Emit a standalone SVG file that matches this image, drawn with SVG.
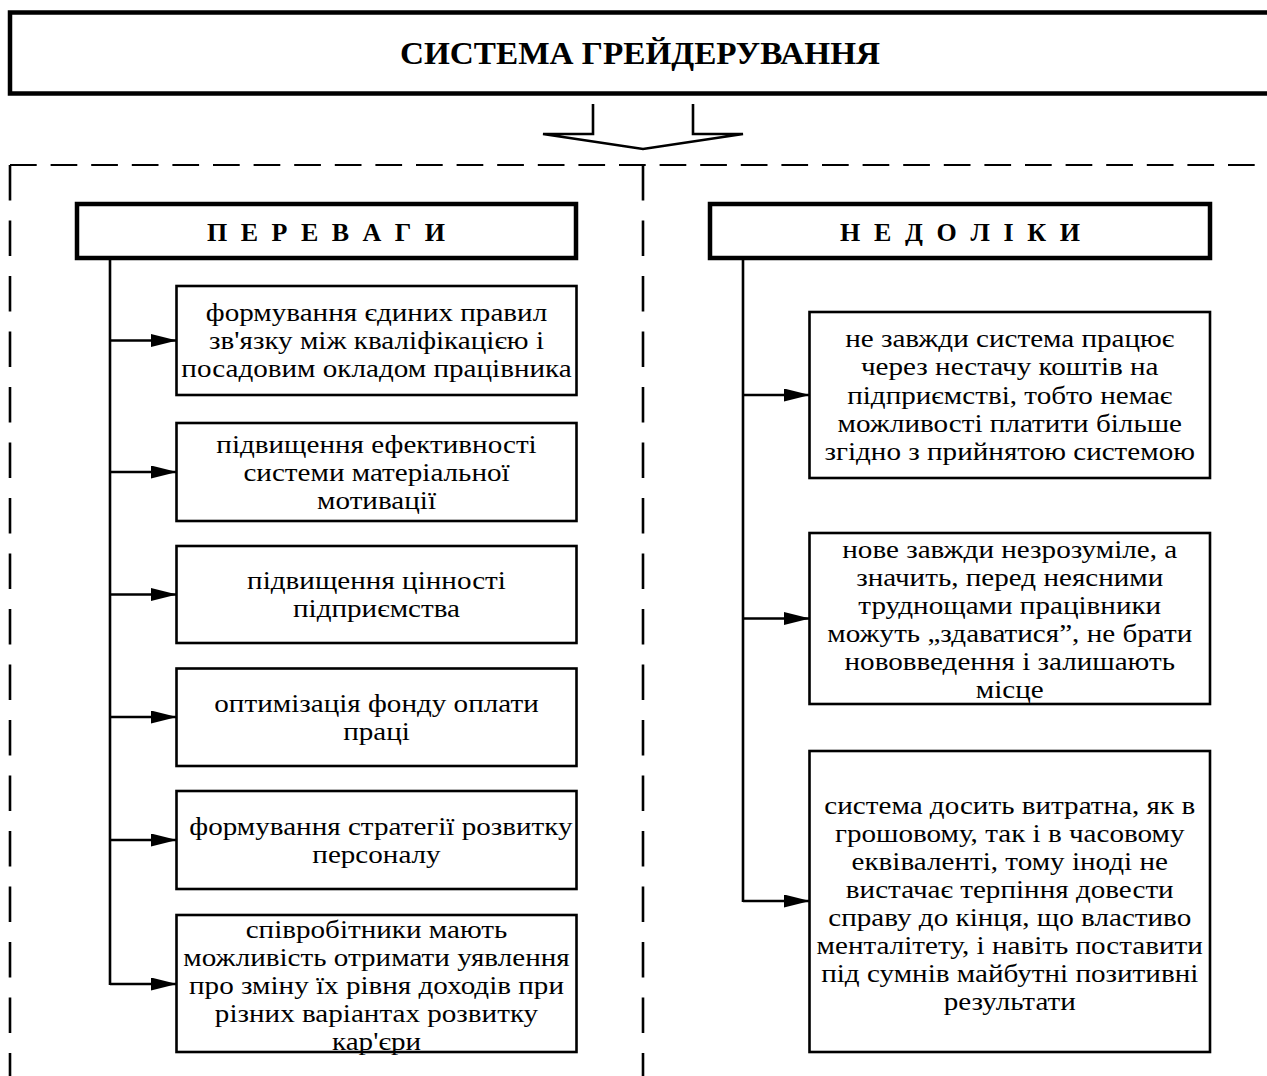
<svg xmlns="http://www.w3.org/2000/svg" width="1267" height="1076" viewBox="0 0 1267 1076">
  <style>
    .frame { fill: none; stroke: #000; stroke-width: 4.5; }
    .head { fill: #fff; stroke: #000; stroke-width: 4.5; }
    .box { fill: #fff; stroke: #000; stroke-width: 2.6; }
    .wire { fill: none; stroke: #000; stroke-width: 2.6; }
    .dashH { fill: none; stroke: #000; stroke-width: 2; stroke-dasharray: 26.7 13.9; }
    .dashV { fill: none; stroke: #000; stroke-width: 2.6; stroke-dasharray: 35.5 20; }
    .tip { fill: #000; stroke: none; }
    .title { font-family: "Liberation Serif", "Times New Roman", serif; font-weight: bold; font-size: 31px; fill: #000; }
    .cap { font-family: "Liberation Serif", "Times New Roman", serif; font-weight: bold; font-size: 26px; fill: #000; }
    .t { font-family: "Liberation Serif", "Times New Roman", serif; font-size: 26px; fill: #000; text-anchor: middle; }
  </style>
  <defs>
    <marker id="arrow" viewBox="0 0 26 13" refX="26" refY="6.5" markerUnits="userSpaceOnUse" markerWidth="26" markerHeight="13" orient="auto">
      <path class="tip" d="M0,0 L26,6.5 L0,13 Z"/>
    </marker>
  </defs>

  <rect width="1267" height="1076" fill="#fff"/>

  <!-- top block -->
  <g id="grading-system">
    <rect class="frame" x="10" y="12.5" width="1262" height="81"/>
    <text class="title" x="640" y="64" text-anchor="middle" textLength="480" lengthAdjust="spacingAndGlyphs">СИСТЕМА ГРЕЙДЕРУВАННЯ</text>
  </g>

  <!-- dashed split into two halves -->
  <g id="split-frame">
    <line class="dashH" x1="10" y1="165" x2="1267" y2="165"/>
    <line class="dashV" x1="10" y1="165" x2="10" y2="1076"/>
    <line class="dashV" x1="643" y1="165" x2="643" y2="1076"/>
  </g>

  <g id="connectors">
    <!-- hollow down arrow -->
    <polyline class="wire" points="593,104 593,134 543,134 643,149 743,134 693,134 693,104"/>
    <!-- advantages trunk -->
    <line class="wire" x1="110" y1="258" x2="110" y2="985"/>
    <line class="wire" x1="110" y1="340.5" x2="177" y2="340.5" marker-end="url(#arrow)"/>
    <line class="wire" x1="110" y1="472" x2="177" y2="472" marker-end="url(#arrow)"/>
    <line class="wire" x1="110" y1="594.5" x2="177" y2="594.5" marker-end="url(#arrow)"/>
    <line class="wire" x1="110" y1="717" x2="177" y2="717" marker-end="url(#arrow)"/>
    <line class="wire" x1="110" y1="840" x2="177" y2="840" marker-end="url(#arrow)"/>
    <line class="wire" x1="110" y1="984" x2="177" y2="984" marker-end="url(#arrow)"/>
    <!-- disadvantages trunk -->
    <line class="wire" x1="743" y1="258" x2="743" y2="902"/>
    <line class="wire" x1="743" y1="395" x2="810" y2="395" marker-end="url(#arrow)"/>
    <line class="wire" x1="743" y1="618.5" x2="810" y2="618.5" marker-end="url(#arrow)"/>
    <line class="wire" x1="743" y1="901" x2="810" y2="901" marker-end="url(#arrow)"/>
  </g>

  <!-- headers -->
  <g id="advantages">
    <rect class="head" x="77" y="204" width="499" height="54"/>
    <text class="cap" x="207" y="241" textLength="238" lengthAdjust="spacing">П Е Р Е В А Г И</text>
  </g>
  <g id="disadvantages">
    <rect class="head" x="710" y="204" width="500" height="54"/>
    <text class="cap" x="840" y="241" textLength="240" lengthAdjust="spacing">Н Е Д О Л І К И</text>
  </g>

  <!-- advantages items -->
  <g id="adv-1">
    <rect class="box" x="176.5" y="286" width="400" height="109"/>
    <g transform="translate(376.5 0) scale(1.12 1)">
      <text class="t" x="0" y="321">формування єдиних правил</text>
      <text class="t" x="0" y="349">зв'язку між кваліфікацією і</text>
      <text class="t" x="0" y="377">посадовим окладом працівника</text>
    </g>
  </g>
  <g id="adv-2">
    <rect class="box" x="176.5" y="423" width="400" height="98"/>
    <g transform="translate(376.5 0) scale(1.12 1)">
      <text class="t" x="0" y="453">підвищення ефективності</text>
      <text class="t" x="0" y="481">системи матеріальної</text>
      <text class="t" x="0" y="509">мотивації</text>
    </g>
  </g>
  <g id="adv-3">
    <rect class="box" x="176.5" y="546" width="400" height="97"/>
    <g transform="translate(376.5 0) scale(1.12 1)">
      <text class="t" x="0" y="589">підвищення цінності</text>
      <text class="t" x="0" y="617">підприємства</text>
    </g>
  </g>
  <g id="adv-4">
    <rect class="box" x="176.5" y="668.5" width="400" height="97.5"/>
    <g transform="translate(376.5 0) scale(1.12 1)">
      <text class="t" x="0" y="712">оптимізація фонду оплати</text>
      <text class="t" x="0" y="740">праці</text>
    </g>
  </g>
  <g id="adv-5">
    <rect class="box" x="176.5" y="791" width="400" height="98"/>
    <g transform="translate(376.5 0) scale(1.12 1)">
      <text class="t" x="4" y="835">формування стратегії розвитку</text>
      <text class="t" x="0" y="863">персоналу</text>
    </g>
  </g>
  <g id="adv-6">
    <rect class="box" x="176.5" y="915" width="400" height="137"/>
    <g transform="translate(376.5 0) scale(1.12 1)">
      <text class="t" x="0" y="938">співробітники мають</text>
      <text class="t" x="0" y="966">можливість отримати уявлення</text>
      <text class="t" x="0" y="994">про зміну їх рівня доходів при</text>
      <text class="t" x="0" y="1022">різних варіантах розвитку</text>
      <text class="t" x="0" y="1050">кар'єри</text>
    </g>
  </g>

  <!-- disadvantages items -->
  <g id="dis-1">
    <rect class="box" x="809.5" y="312" width="400.5" height="166"/>
    <g transform="translate(1009.75 0) scale(1.12 1)">
      <text class="t" x="0" y="347">не завжди система працює</text>
      <text class="t" x="0" y="375">через нестачу коштів на</text>
      <text class="t" x="0" y="404">підприємстві, тобто немає</text>
      <text class="t" x="0" y="432">можливості платити більше</text>
      <text class="t" x="0" y="460">згідно з прийнятою системою</text>
    </g>
  </g>
  <g id="dis-2">
    <rect class="box" x="809.5" y="533" width="400.5" height="171"/>
    <g transform="translate(1009.75 0) scale(1.12 1)">
      <text class="t" x="0" y="558">нове завжди незрозуміле, а</text>
      <text class="t" x="0" y="586">значить, перед неясними</text>
      <text class="t" x="0" y="614">труднощами працівники</text>
      <text class="t" x="0" y="642">можуть „здаватися”, не брати</text>
      <text class="t" x="0" y="670">нововведення і залишають</text>
      <text class="t" x="0" y="698">місце</text>
    </g>
  </g>
  <g id="dis-3">
    <rect class="box" x="809.5" y="751" width="400.5" height="301"/>
    <g transform="translate(1009.75 0) scale(1.12 1)">
      <text class="t" x="0" y="814">система досить витратна, як в</text>
      <text class="t" x="0" y="842">грошовому, так і в часовому</text>
      <text class="t" x="0" y="870">еквіваленті, тому іноді не</text>
      <text class="t" x="0" y="898">вистачає терпіння довести</text>
      <text class="t" x="0" y="926">справу до кінця, що властиво</text>
      <text class="t" x="0" y="954">менталітету, і навіть поставити</text>
      <text class="t" x="0" y="982">під сумнів майбутні позитивні</text>
      <text class="t" x="0" y="1010">результати</text>
    </g>
  </g>
</svg>
